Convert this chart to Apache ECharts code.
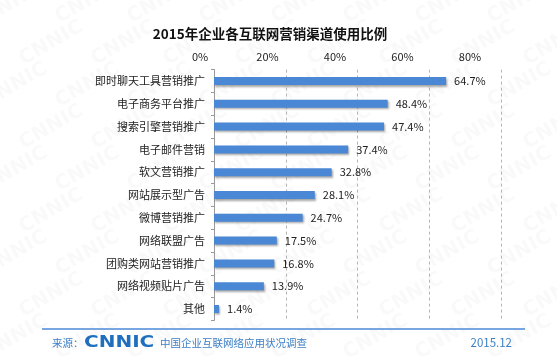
<!DOCTYPE html>
<html><head><meta charset="utf-8">
<script src="https://cdn.jsdelivr.net/npm/echarts@6/dist/echarts.min.js"></script>
<style>html,body{margin:0;padding:0;background:#fff}#c{width:557px;height:363px}</style>
</head><body><div id="c"></div>
<script>
const categories = ['即时聊天工具营销推广','电子商务平台推广','搜索引擎营销推广','电子邮件营销','软文营销推广','网站展示型广告','微博营销推广','网络联盟广告','团购类网站营销推广','网络视频贴片广告','其他'];
const values = [64.7, 48.4, 47.4, 37.4, 32.8, 28.1, 24.7, 17.5, 16.8, 13.9, 1.4];
const tickLabels = ['0%','20%','40%','60%','80%'];

const chart = echarts.init(document.getElementById('c'), null, {renderer:'canvas'});
const font = '"Noto Sans CJK SC", "Noto Sans", sans-serif';
const blue = '#3b7fc6';

const wm = [];
for (let r = 0; r < 9; r++) {
  for (let c = 0; c < 9; c++) {
    wm.push({type:'text', x: c*72 - 20 + (r%2)*36, y: r*42 + 10, rotation: Math.PI/6, z: -10, silent:true,
      style:{text:'CNNIC', fill:'rgba(0,0,0,0.022)', font:'bold 20px "DejaVu Sans", sans-serif'}});
  }
}

chart.setOption({
  backgroundColor:'#fff',
  animation:false,
  title:{text:'2015年企业各互联网营销渠道使用比例', left:265, top:22, textAlign:'center',
    textStyle:{fontSize:13.5, fontWeight:'bold', color:'#111', fontFamily:font}},
  grid:[
    {left:214, right:56, top:69.6, bottom:42.6, containLabel:false},
    {left:200, right:87, top:69.6, bottom:42.6, containLabel:false}
  ],
  xAxis:[
    {gridIndex:0, type:'value', min:0, max:80, interval:20, position:'top',
      axisLine:{show:false}, axisTick:{show:false}, axisLabel:{show:false},
      splitLine:{show:true, lineStyle:{type:[3,3], color:'#b4b4b4', width:1}}},
    {gridIndex:1, type:'value', min:0, max:80, interval:20, position:'top',
      axisLine:{show:false}, axisTick:{show:false}, splitLine:{show:false},
      axisLabel:{show:true, margin:7, fontSize:11, color:'#222', fontFamily:font,
        formatter:(v)=>tickLabels[Math.round(v/20)]}}
  ],
  yAxis:[
    {gridIndex:0, type:'category', data:categories, inverse:true,
      axisLine:{show:true, lineStyle:{color:'#9a9a9a', width:1}},
      axisTick:{show:true, length:3, lineStyle:{color:'#9a9a9a'}},
      axisLabel:{margin:9, fontSize:11, color:'#222', fontFamily:font}},
    {gridIndex:1, type:'category', data:categories, inverse:true, show:false}
  ],
  series:[{
    type:'bar', xAxisIndex:0, yAxisIndex:0, data:values, barWidth:8,
    itemStyle:{color:'#4a88d6', shadowColor:'rgba(0,0,0,0.35)', shadowBlur:2, shadowOffsetX:1, shadowOffsetY:1.5},
    label:{show:true, position:'right', distance:8, fontSize:11, color:'#222', fontFamily:font,
      formatter:(p)=>p.value.toFixed(1)+'%'}
  }],
  graphic:[
    ...wm,
    {type:'line', shape:{x1:42, y1:329, x2:525, y2:329}, style:{stroke:'#4a88d6', lineWidth:1.5}},
    {type:'text', x:52, y:343, style:{text:'来源：', fill:blue, font:'10.5px '+font, verticalAlign:'middle'}},
    {type:'text', x:84, y:343, scaleX:1.25, style:{text:'CNNIC', fill:'#1f6fbf', font:'bold 16px "DejaVu Sans", sans-serif', verticalAlign:'middle'}},
    {type:'text', x:160, y:343, style:{text:'中国企业互联网络应用状况调查', fill:blue, font:'10.5px '+font, verticalAlign:'middle'}},
    {type:'text', x:512, y:343, style:{text:'2015.12', fill:blue, font:'11.5px '+font, align:'right', verticalAlign:'middle'}}
  ]
});
</script></body></html>
